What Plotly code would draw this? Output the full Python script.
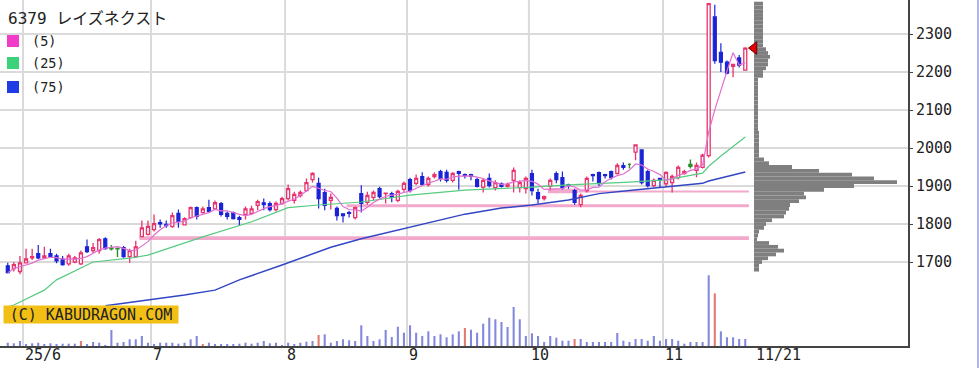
import numpy as np
import pandas as pd
import plotly.graph_objects as go

# ---------------- data ----------------
TITLE = "6379 レイズネクスト"
MA_LABELS = ["(5)", "(25)", "(75)"]
COPYRIGHT = "(C) KABUDRAGON.COM"

JP_HOLIDAYS = ["2025-07-21", "2025-08-11", "2025-09-15", "2025-09-23", "2025-10-13", "2025-11-03"]
dates = pd.bdate_range("2025-05-28", "2025-11-21")
dates = dates[~dates.isin(pd.to_datetime(JP_HOLIDAYS))]

open_ = [
    1690, 1683, 1675, 1698, 1711, 1722, 1711, 1722, 1716, 1708,
    1695, 1700, 1695, 1740, 1730, 1730, 1761, 1737, 1735, 1738,
    1714, 1714, 1767, 1773, 1785, 1804, 1799, 1793, 1828, 1798,
    1817, 1843, 1830, 1843, 1840, 1854, 1828, 1830, 1817, 1825,
    1828, 1849, 1856, 1854, 1838, 1854, 1867, 1862, 1875, 1888,
    1917, 1907, 1883, 1862, 1841, 1827, 1830, 1817, 1880, 1857,
    1870, 1893, 1880, 1880, 1862, 1891, 1917, 1907, 1925, 1904,
    1925, 1938, 1936, 1915, 1938, 1930, 1930, 1917, 1897, 1920,
    1896, 1906, 1899, 1915, 1896, 1893, 1933, 1883, 1867, 1899,
    1933, 1922, 1904, 1888, 1851, 1888, 1930, 1935, 1930, 1938,
    1933, 1954, 1957, 1989, 1995, 1938, 1901, 1920, 1906, 1909,
    1922, 1933, 1952, 1941, 1949, 1980, 2345, 2252, 2226, 2215,
    2237, 2205]
high = [
    1698, 1700, 1716, 1735, 1735, 1745, 1740, 1735, 1722, 1716,
    1722, 1716, 1730, 1759, 1750, 1763, 1765, 1745, 1738, 1742,
    1735, 1756, 1809, 1809, 1825, 1812, 1809, 1830, 1838, 1818,
    1846, 1846, 1846, 1864, 1862, 1858, 1833, 1833, 1822, 1846,
    1848, 1864, 1867, 1859, 1859, 1872, 1904, 1885, 1888, 1920,
    1936, 1922, 1893, 1880, 1846, 1828, 1835, 1846, 1902, 1885,
    1888, 1898, 1882, 1885, 1890, 1912, 1922, 1930, 1936, 1925,
    1936, 1943, 1943, 1936, 1940, 1933, 1932, 1922, 1920, 1933,
    1915, 1909, 1909, 1949, 1915, 1925, 1943, 1893, 1875, 1920,
    1938, 1938, 1906, 1893, 1880, 1925, 1932, 1938, 1932, 1941,
    1960, 1962, 1960, 2010, 1996, 1943, 1920, 1922, 1938, 1930,
    1954, 1943, 1970, 1962, 1985, 2380, 2377, 2276, 2230, 2222,
    2245, 2265]
low = [
    1670, 1675, 1668, 1697, 1705, 1708, 1708, 1711, 1697, 1690,
    1690, 1697, 1692, 1724, 1724, 1722, 1732, 1730, 1713, 1711,
    1698, 1711, 1765, 1770, 1780, 1790, 1790, 1790, 1790, 1796,
    1814, 1812, 1828, 1830, 1838, 1820, 1812, 1812, 1796, 1812,
    1825, 1836, 1836, 1833, 1833, 1851, 1862, 1854, 1870, 1885,
    1909, 1841, 1836, 1838, 1809, 1804, 1817, 1812, 1830, 1851,
    1862, 1867, 1854, 1857, 1857, 1885, 1883, 1902, 1900, 1899,
    1920, 1912, 1909, 1909, 1890, 1920, 1915, 1896, 1883, 1896,
    1888, 1896, 1896, 1883, 1883, 1880, 1875, 1854, 1862, 1888,
    1907, 1891, 1893, 1851, 1844, 1883, 1912, 1900, 1920, 1917,
    1930, 1943, 1946, 1968, 1904, 1896, 1896, 1896, 1899, 1883,
    1917, 1930, 1946, 1923, 1946, 1975, 2222, 2200, 2194, 2186,
    2212, 2205]
close = [
    1672, 1693, 1698, 1708, 1714, 1711, 1716, 1714, 1703, 1693,
    1716, 1711, 1724, 1727, 1738, 1759, 1735, 1735, 1736, 1714,
    1730, 1740, 1790, 1794, 1801, 1800, 1796, 1822, 1807, 1814,
    1843, 1820, 1840, 1833, 1856, 1825, 1820, 1814, 1812, 1840,
    1840, 1859, 1851, 1838, 1854, 1867, 1893, 1878, 1883, 1909,
    1933, 1867, 1849, 1870, 1822, 1822, 1828, 1843, 1854, 1875,
    1883, 1872, 1881, 1870, 1886, 1907, 1888, 1920, 1904, 1920,
    1930, 1920, 1915, 1933, 1933, 1927, 1925, 1899, 1915, 1901,
    1909, 1899, 1904, 1941, 1909, 1920, 1888, 1867, 1872, 1915,
    1917, 1896, 1902, 1857, 1875, 1920, 1927, 1906, 1927, 1922,
    1954, 1949, 1957, 2008, 1909, 1901, 1915, 1917, 1936, 1925,
    1949, 1938, 1957, 1954, 1981, 2380, 2230, 2226, 2197, 2220,
    2218, 2263]
green_days = [17, 18, 102, 112]

volume = [
    33, 27, 50, 17, 27, 33, 17, 27, 17, 23,
    23, 23, 50, 17, 40, 33, 7, 160, 33, 40,
    67, 67, 100, 33, 17, 33, 33, 33, 23, 33,
    67, 100, 17, 33, 17, 17, 17, 17, 23, 33,
    23, 33, 50, 27, 33, 7, 33, 17, 33, 43,
    50, 110, 117, 33, 50, 67, 57, 50, 207, 100,
    50, 67, 160, 90, 193, 133, 207, 133, 100, 147,
    100, 117, 87, 117, 147, 180, 163, 133, 223, 283,
    267, 240, 190, 390, 267, 100, 127, 100, 40, 100,
    83, 53, 53, 70, 70, 40, 40, 40, 40, 40,
    130, 53, 40, 70, 70, 53, 100, 53, 70, 70,
    53, 23, 40, 40, 40, 707, 527, 147, 87, 87,
    70, 70]
red_volume_days = [12, 32, 51, 75, 93, 116]

ma25_days = [0, 1, 6, 8, 14, 20, 23, 32, 40, 46, 51, 58, 66, 75, 86, 92, 102, 108, 114, 115, 117, 119, 121]
ma25_vals = [1582, 1587, 1626, 1653, 1700, 1710, 1718, 1766, 1806, 1843, 1850, 1858, 1876, 1889, 1897,
             1903, 1910, 1916, 1934, 1952, 1979, 2004, 2029]
ma75_days = [16, 23, 29, 34, 38, 45, 53, 58, 66, 75, 81, 86, 92, 97, 102, 108, 114, 115, 119, 121]
ma75_vals = [1585, 1600, 1613, 1626, 1653, 1692, 1739, 1761, 1792, 1826, 1842, 1850, 1863, 1880,
             1888, 1897, 1907, 1913, 1928, 1937]

band_start_day = [22, 56, 89, 94]
band_end_day = [121, 121, 93, 121]
band_low = [1758, 1844, 1881, 1883]
band_high = [1768, 1852, 1893, 1888]

profile_price = list(range(1680, 2390, 10))
profile_vol = [
    5, 5, 8, 14, 22, 30, 24, 15, 3, 4,
    5, 10, 12, 18, 30, 32, 35, 36, 45, 52,
    50, 70, 100, 143, 120, 98, 65, 38, 15, 10,
    5, 5, 5, 5, 5, 5, 5, 4, 4, 4,
    4, 4, 4, 4, 4, 4, 4, 4, 4, 4,
    4, 9, 9, 12, 14, 14, 16, 14, 12, 9,
    9, 9, 9, 9, 9, 9, 9, 9, 9, 9, 9]

price_ticks = [1700, 1800, 1900, 2000, 2100, 2200, 2300]

n = len(dates)
assert all(len(a) == n for a in (open_, high, low, close, volume))
assert len(profile_vol) == len(profile_price)

# ---------------- style / geometry ----------------
PLOT_W, PLOT_H = 908, 346
RED = "#e8336d"
BLUE = "#1a24d6"
GREEN = "#2e8b2e"
MONO = "DejaVu Sans Mono"


def pxx(p):
    return p / PLOT_W


def pxy(p):
    return 1 - p / PLOT_H


idx = np.arange(n)
main_days = [i for i in range(n) if i not in green_days]

fig = go.Figure()

# volume
vol_colors = ["#e07b6e" if i in red_volume_days else "#8388dc" for i in range(n)]
fig.add_trace(go.Bar(x=idx, y=volume, yaxis="y2", width=0.34,
                     marker=dict(color=vol_colors, line=dict(width=0)),
                     hoverinfo="skip"))

# candles
fig.add_trace(go.Candlestick(
    x=[i for i in main_days],
    open=[open_[i] for i in main_days], high=[high[i] for i in main_days],
    low=[low[i] for i in main_days], close=[close[i] for i in main_days],
    increasing=dict(line=dict(color=RED, width=1.3), fillcolor="white"),
    decreasing=dict(line=dict(color=BLUE, width=1.2), fillcolor=BLUE),
    hoverinfo="skip"))
fig.add_trace(go.Candlestick(
    x=green_days,
    open=[open_[i] for i in green_days], high=[high[i] for i in green_days],
    low=[low[i] for i in green_days], close=[close[i] for i in green_days],
    increasing=dict(line=dict(color=GREEN, width=1.4), fillcolor=GREEN),
    decreasing=dict(line=dict(color=GREEN, width=1.4), fillcolor=GREEN),
    hoverinfo="skip"))

# moving averages
ma5 = pd.Series(close).rolling(5, min_periods=1).mean()
fig.add_trace(go.Scatter(x=ma75_days, y=ma75_vals, mode="lines",
                         line=dict(color="#3347c4", width=1.5), hoverinfo="skip"))
fig.add_trace(go.Scatter(x=ma25_days, y=ma25_vals, mode="lines",
                         line=dict(color="#55cc80", width=1.2), hoverinfo="skip"))
fig.add_trace(go.Scatter(x=idx, y=ma5, mode="lines",
                         line=dict(color="#e36fd0", width=1.2), hoverinfo="skip"))

# price-by-volume profile
fig.add_trace(go.Bar(y=profile_price, x=profile_vol, orientation="h",
                     xaxis="x3", yaxis="y", width=10,
                     marker=dict(color="#7f7f7f", line=dict(width=0)),
                     hoverinfo="skip"))
# last price marker
fig.add_trace(go.Scatter(x=[0], y=[close[-1]], xaxis="x3", yaxis="y", mode="markers",
                         cliponaxis=False,
                         marker=dict(symbol="triangle-left", size=11, color="#e00000",
                                     line=dict(color="#700000", width=1)),
                         hoverinfo="skip"))

shapes = []
# month grid lines
month_bounds = [i - 0.5 for i in range(1, n) if dates[i].month != dates[i - 1].month]
for b in month_bounds:
    shapes.append(dict(type="line", xref="x", yref="paper", x0=b, x1=b, y0=0, y1=1,
                       line=dict(color="#dadada", width=2), layer="below"))
# unfilled gap bands
for s, e, lo, hi in zip(band_start_day, band_end_day, band_low, band_high):
    shapes.append(dict(type="rect", xref="x", yref="y", x0=s - 0.4, x1=e + 0.6, y0=lo, y1=hi,
                       fillcolor="#f3a9cc", line=dict(width=0), layer="between"))
# legend squares
for (y0, y1), col in zip([(35, 47), (57, 69), (81, 93)], ["#f03cc8", "#3cd27a", "#1e3ce6"]):
    shapes.append(dict(type="rect", xref="paper", yref="paper", x0=pxx(7), x1=pxx(19),
                       y0=pxy(y1), y1=pxy(y0), fillcolor=col, line=dict(width=0)))
# page border on the right
shapes.append(dict(type="line", xref="paper", yref="paper", x0=pxx(978), x1=pxx(978),
                   y0=pxy(368), y1=1, line=dict(color="#b4b4ea", width=2)))

annotations = []
annotations.append(dict(text=TITLE, xref="paper", yref="paper", x=pxx(6), y=pxy(18),
                        xanchor="left", yanchor="middle", showarrow=False,
                        font=dict(family=MONO + ", Noto Sans CJK JP", size=16, color="#222")))
for lab, yc in zip(MA_LABELS, [41, 63, 87]):
    annotations.append(dict(text=lab, xref="paper", yref="paper", x=pxx(30), y=pxy(yc),
                            xanchor="left", yanchor="middle", showarrow=False,
                            font=dict(family=MONO, size=13.5, color="#222")))
# x labels (month starts + last date)
tick_labels = ["25/6", "7", "8", "9", "10", "11", "11/21"]
tick_pos = month_bounds + [n - 1 + 1.5]
for lab, p in zip(tick_labels, tick_pos):
    annotations.append(dict(text=lab, xref="x", yref="paper", x=p, y=pxy(355),
                            xanchor="left", yanchor="middle", showarrow=False,
                            font=dict(family=MONO, size=15, color="#222")))
annotations.append(dict(text=COPYRIGHT, xref="paper", yref="paper", x=pxx(91), y=pxy(314.5),
                        xanchor="center", yanchor="middle", showarrow=False,
                        width=172, height=15, bgcolor="#f2c014", borderpad=1,
                        font=dict(family=MONO, size=15, color="#222")))

fig.update_layout(
    width=979, height=368,
    margin=dict(l=0, r=979 - PLOT_W, t=0, b=368 - PLOT_H, pad=0),
    paper_bgcolor="white", plot_bgcolor="white",
    showlegend=False,
    xaxis=dict(range=[-1.275, 147.7], showgrid=False, zeroline=False,
               showticklabels=False, ticks="", showline=True, linecolor="#444",
               linewidth=2, rangeslider=dict(visible=False), fixedrange=True),
    xaxis3=dict(domain=[754 / PLOT_W, 1], range=[0, 154], anchor="y", visible=False,
                fixedrange=True),
    yaxis=dict(range=[1479, 2389.5], side="right", tickvals=price_ticks,
               ticktext=[str(v) for v in price_ticks],
               showgrid=True, gridcolor="#dadada", gridwidth=2, zeroline=False,
               showline=True, linecolor="#444", linewidth=2,
               ticks="outside", ticklen=3, tickcolor="#444",
               tickfont=dict(family=MONO, size=15, color="#222"), fixedrange=True),
    yaxis2=dict(overlaying="y", range=[0, PLOT_H * 10], visible=False, fixedrange=True),
    shapes=shapes, annotations=annotations,
)

fig.write_html("out.html", config={"displayModeBar": False},
               post_script="document.body.style.margin='0px';document.body.style.overflow='hidden';")
